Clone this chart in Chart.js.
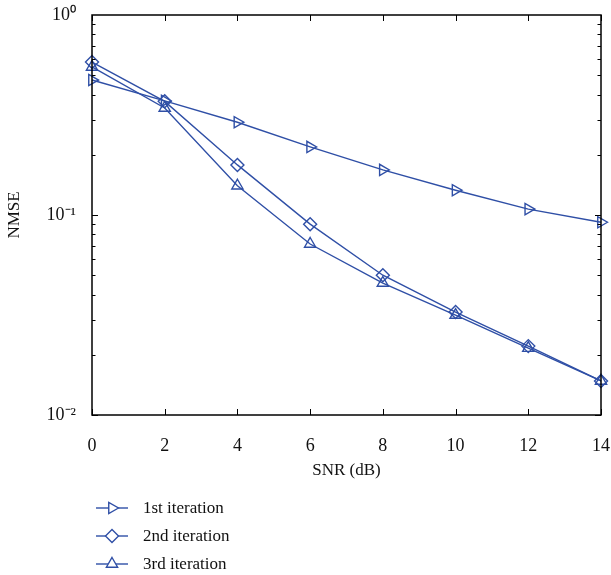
<!DOCTYPE html>
<html>
<head>
<meta charset="utf-8">
<script src="https://cdn.jsdelivr.net/npm/chart.js@4/dist/chart.umd.min.js"></script>
<style>
  html, body { margin: 0; padding: 0; background: #fff; }
  #wrap { width: 611px; height: 575px; position: relative; }
</style>
</head>
<body>
<div id="wrap"><canvas id="chartCanvas" width="611" height="575"></canvas></div>
<script>
// SNR values on the x axis (dB)
const snr = [0, 2, 4, 6, 8, 10, 12, 14];
// NMSE per iteration
const iter1 = [0.473, 0.372, 0.291, 0.219, 0.168, 0.133, 0.107, 0.092];
const iter2 = [0.582, 0.370, 0.178, 0.090, 0.050, 0.0327, 0.0221, 0.0148];
const iter3 = [0.550, 0.343, 0.140, 0.0716, 0.0457, 0.0316, 0.0216, 0.0148];
const seriesNames = ['1st iteration', '2nd iteration', '3rd iteration'];
// y tick labels (decades)
const yTicks = [0.01, 0.1, 1];
const yTickLabels = ['10\u207B\u00B2', '10\u207B\u00B9', '10\u2070'];

const blue = '#2f4fa6';
const font = 'Liberation Serif';

//Draws the matlab style box with inward ticks
const boxTicks = {
    id: 'boxTicks',
    afterDraw(chart) {
        const ctx = chart.ctx;
        const a = chart.chartArea;
        const xs = chart.scales.x;
        const ys = chart.scales.y;
        ctx.save();
        ctx.strokeStyle = '#000';
        ctx.lineWidth = 1.5;
        ctx.strokeRect(a.left, a.top, a.right - a.left, a.bottom - a.top);
        ctx.lineWidth = 1;
        ctx.beginPath();
        snr.forEach(v => {
            if (v % 2 !== 0) return;
            const px = Math.round(xs.getPixelForValue(v)) + 0.5;
            ctx.moveTo(px, a.bottom); ctx.lineTo(px, a.bottom - 6);
            ctx.moveTo(px, a.top); ctx.lineTo(px, a.top + 6);
        });
        // major and minor ticks on the log axis
        [0.01, 0.1].forEach(dec => {
            for (let k = 1; k <= 9; k++) {
                const py = Math.round(ys.getPixelForValue(dec * k)) + 0.5;
                const len = k === 1 ? 6 : 3.5;
                ctx.moveTo(a.left, py); ctx.lineTo(a.left + len, py);
                ctx.moveTo(a.right, py); ctx.lineTo(a.right - len, py);
            }
        });
        ctx.stroke();
        ctx.restore();
    }
};

//Legend drawn below the axes, one entry per line
const stackedLegend = {
    id: 'stackedLegend',
    afterDraw(chart) {
        const ctx = chart.ctx;
        ctx.save();
        chart.data.datasets.forEach((ds, i) => {
            const y = 508 + i * 28;
            ctx.strokeStyle = ds.borderColor;
            ctx.fillStyle = '#fff';
            ctx.lineWidth = 1.4;
            ctx.beginPath();
            ctx.moveTo(96, y); ctx.lineTo(128, y);
            ctx.stroke();
            Chart.helpers.drawPoint(ctx, {
                pointStyle: ds.pointStyle,
                radius: ds.pointRadius,
                rotation: ds.pointRotation || 0,
                borderWidth: 1.4
            }, 112, y);
            ctx.fillStyle = '#111';
            ctx.font = '17px "' + font + '"';
            ctx.textBaseline = 'middle';
            ctx.fillText(ds.label, 143, y + 1);
        });
        ctx.restore();
    }
};

function makeSet(label, data, style, rot) {
    return {
        label: label,
        data: data,
        borderColor: blue,
        backgroundColor: 'rgba(255,255,255,0)',
        borderWidth: 1.4,
        pointStyle: style,
        pointRotation: rot,
        pointRadius: 6.5,
        pointBorderWidth: 1.4,
        tension: 0,
        clip: false
    };
}

const ctx = document.getElementById('chartCanvas');
window.myChart = new Chart(ctx, {
    type: 'line',
    data: {
        labels: snr,
        datasets: [
            makeSet(seriesNames[0], iter1, 'triangle', 90),
            makeSet(seriesNames[1], iter2, 'rectRot', 0),
            makeSet(seriesNames[2], iter3, 'triangle', 0)
        ]
    },
    options: {
        responsive: false,
        animation: false,
        layout: { padding: { left: 0, top: 15, right: 10, bottom: 90 } },
        plugins: { legend: { display: false }, tooltip: { enabled: false } },
        scales: {
            x: {
                type: 'linear',
                min: 0,
                max: 14,
                grid: { display: false },
                border: { display: false },
                afterBuildTicks: s => { s.ticks = snr.map(v => ({ value: v })); },
                afterFit: s => { s.height = 70; s.paddingLeft = 0; s.paddingRight = 0; },
                ticks: { color: '#111', padding: 12, font: { family: font, size: 18 }, maxRotation: 0 },
                title: { display: true, text: 'SNR (dB)', color: '#111', padding: { top: 4 }, font: { family: font, size: 17 } }
            },
            y: {
                type: 'logarithmic',
                min: 0.01,
                max: 1,
                grid: { display: false },
                border: { display: false },
                afterBuildTicks: s => { s.ticks = yTicks.map(v => ({ value: v })); },
                afterFit: s => { s.width = 92; s.paddingTop = 0; s.paddingBottom = 0; },
                ticks: {
                    color: '#111',
                    padding: 8,
                    font: { family: font, size: 18 },
                    callback: v => yTickLabels[yTicks.indexOf(v)]
                },
                title: { display: true, text: 'NMSE', color: '#111', font: { family: font, size: 17 } }
            }
        }
    },
    plugins: [boxTicks, stackedLegend]
});
</script>
</body>
</html>
